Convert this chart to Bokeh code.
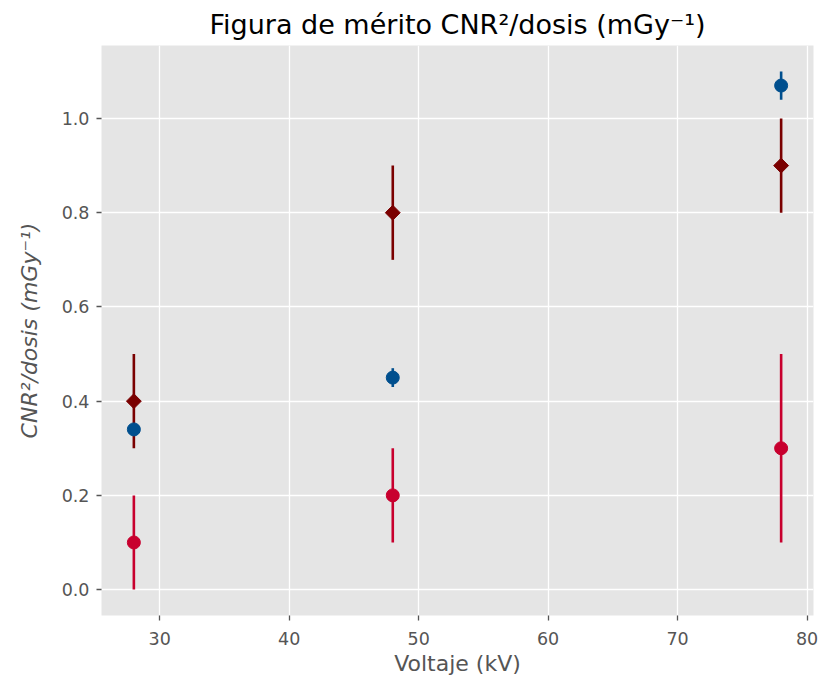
import math
from bokeh.plotting import figure
from bokeh.models import ColumnDataSource, FixedTicker, Range1d, CustomJSTickFormatter
from bokeh.embed import file_html
from bokeh.resources import INLINE

voltaje = [28, 48, 78]
blue_y = [0.34, 0.45, 1.07]
blue_err = [0.01, 0.02, 0.03]
maroon_y = [0.40, 0.80, 0.90]
maroon_err = [0.10, 0.10, 0.10]
red_y = [0.10, 0.20, 0.30]
red_err = [0.10, 0.10, 0.20]
x_ticks = [30, 40, 50, 60, 70, 80]
y_ticks = [0.0, 0.2, 0.4, 0.6, 0.8, 1.0]

FONT = "DejaVu Sans"

p = figure(width=820, height=681, output_backend="svg", toolbar_location=None,
           x_range=Range1d(25.5, 80.5), y_range=Range1d(-0.055, 1.155),
           min_border_left=101, min_border_right=7, min_border_top=45, min_border_bottom=66)

p.title.text = "Figura de mérito CNR²/dosis (mGy⁻¹)"
p.title.align = "center"
p.title.text_font = FONT
p.title.text_font_size = "27px"
p.title.text_font_style = "normal"
p.title.text_color = "#000000"
p.title.standoff = 12

p.background_fill_color = "#E5E5E5"
p.border_fill_color = "white"
p.outline_line_color = None
p.grid.grid_line_color = "white"
p.grid.grid_line_width = 1.3

for ax in (p.xaxis[0], p.yaxis[0]):
    ax.axis_line_color = None
    ax.major_tick_in = 0
    ax.major_tick_out = 5
    ax.major_tick_line_color = "#555555"
    ax.major_tick_line_width = 1.3
    ax.minor_tick_line_color = None
    ax.major_label_text_font = FONT
    ax.major_label_text_font_size = "17.5px"
    ax.major_label_text_color = "#555555"
    ax.axis_label_text_font = FONT
    ax.axis_label_text_font_size = "22px"
    ax.axis_label_text_color = "#555555"
    ax.axis_label_text_font_style = "normal"

p.xaxis.ticker = FixedTicker(ticks=x_ticks)
p.yaxis.ticker = FixedTicker(ticks=y_ticks)
p.yaxis.formatter = CustomJSTickFormatter(code="return tick.toFixed(1);")
p.xaxis.axis_label = "Voltaje (kV)"
p.yaxis.axis_label = "CNR²/dosis (mGy⁻¹)"
p.yaxis.axis_label_text_font_style = "italic"
p.xaxis.major_label_standoff = 11
p.yaxis.major_label_standoff = 7
p.xaxis.axis_label_standoff = 3
p.yaxis.axis_label_standoff = 17

def series(y, err, color, marker):
    lo = [a - b for a, b in zip(y, err)]
    hi = [a + b for a, b in zip(y, err)]
    src = ColumnDataSource(dict(x=voltaje, y=y, lo=lo, hi=hi))
    p.segment(x0="x", y0="lo", x1="x", y1="hi", source=src, line_color=color, line_width=2.6)
    if marker == "diamond":
        p.scatter(x="x", y="y", source=src, marker="square", angle=math.pi / 4, size=10.5,
                  fill_color=color, line_color=color, line_width=1)
    else:
        p.scatter(x="x", y="y", source=src, marker="circle", size=13,
                  fill_color=color, line_color=color, line_width=1)

series(red_y, red_err, "#C8002E", "circle")
series(maroon_y, maroon_err, "#7A0000", "diamond")
series(blue_y, blue_err, "#004F8E", "circle")

open("out.html", "w").write(file_html(p, INLINE))
